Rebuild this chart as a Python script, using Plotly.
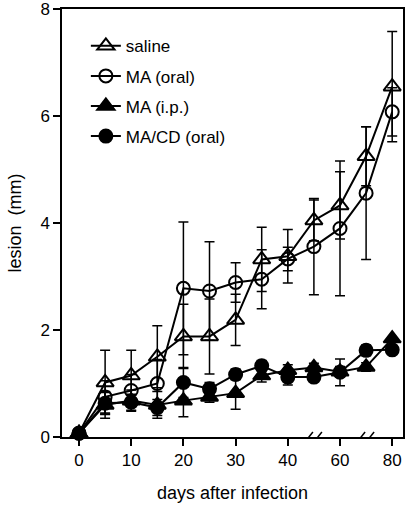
import plotly.graph_objects as go

# days after infection (axis is compressed by half beyond day 40)
days = [0, 5, 10, 15, 20, 25, 30, 35, 40, 50, 60, 70, 80]
tick_days = [0, 10, 20, 30, 40, 60, 80]
break_days = [50, 70]

saline = [0.07, 1.02, 1.15, 1.50, 1.88, 1.88, 2.19, 3.32, 3.38, 4.05, 4.33, 5.25, 6.55]
saline_err = [0, 0.60, 0.47, 0.58, 0.60, 0.70, 0.48, 0.60, 0.50, 0.38, 0.63, 0.55, 1.03]

ma_oral = [0.07, 0.75, 0.87, 1.00, 2.78, 2.73, 2.89, 2.95, 3.33, 3.56, 3.90, 4.56, 6.08]
ma_oral_err = [0, 0.30, 0.30, 0.45, 1.24, 0.92, 0.37, 0.55, 0.22, 0.90, 1.26, 1.24, 0.45]

ma_ip = [0.07, 0.60, 0.68, 0.60, 0.68, 0.75, 0.82, 1.15, 1.25, 1.30, 1.22, 1.31, 1.84]
ma_ip_err = [0, 0.25, 0.20, 0.25, 0.30, 0.10, 0.30, 0.12, 0.10, 0.08, 0.10, 0.08, 0.0]

ma_cd = [0.07, 0.63, 0.65, 0.55, 1.02, 0.90, 1.17, 1.33, 1.12, 1.12, 1.21, 1.62, 1.63]
ma_cd_err = [0, 0.20, 0.15, 0.15, 0.28, 0.12, 0.10, 0.10, 0.15, 0.08, 0.25, 0.10, 0.05]


def pos(d):
    return d if d <= 40 else 40 + (d - 40) / 2


xp = [pos(d) for d in days]
FONT = "Liberation Sans, Arial, sans-serif"

series = [
    ("saline", saline, saline_err, "triangle-up-open", 15),
    ("MA (oral)", ma_oral, ma_oral_err, "circle-open", 13),
    ("MA (i.p.)", ma_ip, ma_ip_err, "triangle-up", 15),
    ("MA/CD (oral)", ma_cd, ma_cd_err, "circle", 13),
]

fig = go.Figure()
for i, (name, vals, errs, sym, sz) in enumerate(series):
    fig.add_trace(go.Scatter(
        x=xp, y=vals, name=name, mode="lines+markers",
        legendgroup=str(i),
        line=dict(color="black", width=2),
        marker=dict(symbol=sym, size=sz, color="black",
                    line=dict(color="black", width=2)),
        error_y=dict(type="data", array=errs, visible=True,
                     color="black", thickness=1.5, width=5),
        cliponaxis=False,
    ))

# axis-break marks "//"
for bd in break_days:
    for off in (-9, 0):
        fig.add_shape(type="line", xref="x", yref="y",
                      xsizemode="pixel", ysizemode="pixel",
                      xanchor=pos(bd), yanchor=0,
                      x0=off, x1=off + 8, y0=-5, y1=5,
                      line=dict(color="black", width=1.5))

fig.update_layout(
    width=409, height=508,
    margin=dict(l=62, r=6, t=9, b=71),
    paper_bgcolor="white", plot_bgcolor="white",
    font=dict(family=FONT, size=17, color="black"),
    showlegend=True,
    legend=dict(x=0.07, y=0.955, xanchor="left", yanchor="top",
                bgcolor="rgba(0,0,0,0)", tracegroupgap=5,
                font=dict(family=FONT, size=17)),
    xaxis=dict(range=[-3.26, 62.07], tickvals=[pos(d) for d in tick_days],
               ticktext=[str(d) for d in tick_days], automargin=False,
               showgrid=False, zeroline=False, showline=True,
               linecolor="black", linewidth=1.5, mirror=True,
               ticks="outside", ticklen=7, tickwidth=1.5, tickcolor="black",
               tickfont=dict(size=17), ticklabeloverflow="allow",
               title=dict(text="days after infection", standoff=17,
                          font=dict(size=18))),
    yaxis=dict(range=[0, 8.003], tickvals=[0, 2, 4, 6, 8], automargin=False,
               showgrid=False, zeroline=False, showline=True,
               linecolor="black", linewidth=1.5, mirror=True,
               ticks="outside", ticklen=7, tickwidth=1.5, tickcolor="black",
               tickfont=dict(size=17), ticklabeloverflow="allow",
               title=dict(text="lesion  (mm)", standoff=14,
                          font=dict(size=18))),
)

fig.write_html("out.html", config={"displayModeBar": False},
               post_script="document.body.style.margin='0';")
